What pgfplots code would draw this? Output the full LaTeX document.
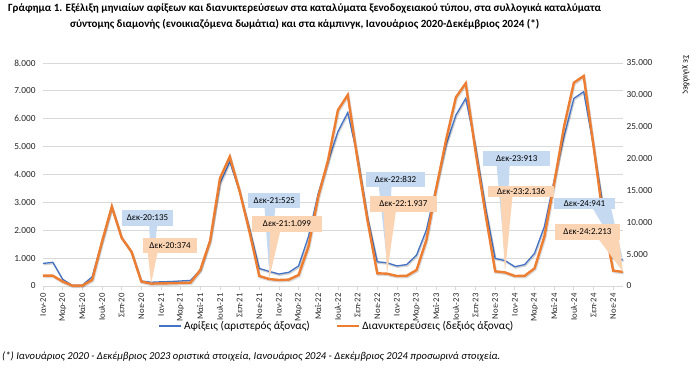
\documentclass[border=0pt]{standalone}
\usepackage{fontspec}
\setmainfont{Carlito}
\usepackage{pgfplots}
\usepackage{pgfplotstable}
\pgfplotsset{compat=1.18}

\definecolor{cblue}{HTML}{4472C4}
\definecolor{corange}{HTML}{ED7D31}
\definecolor{bbox}{HTML}{C5D9F1}
\definecolor{obox}{HTML}{FBD4B4}
\definecolor{gridc}{HTML}{D9D9D9}

\pgfplotstableread{
i a n
0 810 1620
1 850 1620
2 240 700
3 20 50
4 30 60
5 330 950
6 1590 6950
7 2840 12450
8 1730 7580
9 1230 5380
10 180 700
11 135 374
12 150 410
13 160 430
14 180 480
15 200 520
16 570 2500
17 1650 7100
18 3680 16900
19 4460 20300
20 3380 14900
21 2070 8530
22 630 1570
23 525 1099
24 430 940
25 490 1000
26 720 1730
27 1770 6170
28 3330 14020
29 4460 19780
30 5540 27600
31 6220 29980
32 4640 19780
33 2490 10360
34 870 1990
35 832 1937
36 720 1570
37 770 1600
38 1110 2510
39 2010 7220
40 3560 15330
41 5060 22920
42 6130 29620
43 6730 31810
44 5000 21090
45 2850 11400
46 990 2300
47 913 2136
48 690 1570
49 770 1600
50 1170 2770
51 2130 7740
52 3800 16120
53 5360 25010
54 6730 31910
55 6970 32960
56 5000 22000
57 2800 10500
58 1000 2400
59 941 2213
}\data

\newcommand{\callout}[9]{%
  \fill[#1] (#6pt,#3pt) -- (#7pt,#3pt) -- (#8) -- cycle;
  \node[fill=#1, minimum width=#4pt, minimum height=#5pt, inner sep=0pt,
        font=\fontsize{9}{10}\selectfont] at (#2pt,#3pt) {#9};
}

\begin{document}
\begin{tikzpicture}
\useasboundingbox (-43pt,-85pt) rectangle (656pt,286pt);

\begin{axis}[
  at={(0pt,0pt)}, anchor=south west,
  scale only axis, width=580pt, height=223pt,
  xmin=0, xmax=59, ymin=0, ymax=8000,
  clip=false,
  axis x line*=bottom, axis y line*=left,
  x axis line style={draw=gridc, line width=0.8pt, -},
  y axis line style={draw=none},
  xtick={0,2,...,58},
  xticklabels={Ιαν-20,Μαρ-20,Μαϊ-20,Ιουλ-20,Σεπ-20,Νοε-20,
               Ιαν-21,Μαρ-21,Μαϊ-21,Ιουλ-21,Σεπ-21,Νοε-21,
               Ιαν-22,Μαρ-22,Μαϊ-22,Ιουλ-22,Σεπ-22,Νοε-22,
               Ιαν-23,Μαρ-23,Μαϊ-23,Ιουλ-23,Σεπ-23,Νοε-23,
               Ιαν-24,Μαρ-24,Μαϊ-24,Ιουλ-24,Σεπ-24,Νοε-24},
  xticklabel style={rotate=90, anchor=east, font=\fontsize{8.7}{10}\selectfont, text=black!85},
  xtick style={draw=gridc, line width=0.8pt},
  tick align=outside, major tick length=4pt,
  ytick={0,1000,...,8000},
  ytick style={draw=none},
  yticklabel style={font=\fontsize{9.3}{11}\selectfont, text=black!85,
     /pgf/number format/1000 sep={.}, /pgf/number format/assume math mode=true},
  scaled y ticks=false,
  ymajorgrids, grid style={draw=gridc, line width=0.8pt},
  legend style={at={(0.507,-0.179)}, anchor=center, draw=none, fill=none,
     font=\fontsize{11.3}{13}\selectfont, legend columns=2,
     /tikz/every even column/.append style={column sep=24pt}},
  legend image code/.code={\draw[#1] (0pt,0pt) -- (22pt,0pt);},
]
\addplot[black, opacity=0.18, line width=1.6pt, forget plot, shift={(0.7pt,-1.2pt)}] table[x=i,y=a]{\data};
\addplot[cblue, line width=1.3pt] table[x=i,y=a]{\data};
\addlegendentry{Αφίξεις (αριστερός άξονας)}
\addlegendimage{corange, line width=2.4pt}
\addlegendentry{Διανυκτερεύσεις (δεξιός άξονας)}
\coordinate (pb20) at (axis cs:11,135);
\coordinate (pb21) at (axis cs:23,525);
\coordinate (pb22) at (axis cs:35,832);
\coordinate (pb23) at (axis cs:47,913);
\coordinate (pb24) at (axis cs:59,941);
\end{axis}

\begin{axis}[
  at={(0pt,0pt)}, anchor=south west,
  scale only axis, width=580pt, height=223pt,
  xmin=0, xmax=59, ymin=0, ymax=35000,
  clip=false,
  axis x line=none, axis y line*=right,
  y axis line style={draw=none},
  ytick={0,5000,...,35000},
  ytick style={draw=none},
  yticklabel style={font=\fontsize{9.3}{11}\selectfont, text=black!85,
     /pgf/number format/1000 sep={.}, /pgf/number format/assume math mode=true},
  scaled y ticks=false,
]
\addplot[black, opacity=0.15, line width=2.6pt, forget plot, shift={(0.7pt,-1.2pt)}] table[x=i,y=n]{\data};
\addplot[corange, line width=2.4pt] table[x=i,y=n]{\data};
\coordinate (po20) at (axis cs:11,374);
\coordinate (po21) at (axis cs:23,1099);
\coordinate (po22) at (axis cs:35,1937);
\coordinate (po23) at (axis cs:47,2136);
\coordinate (po24) at (axis cs:59,2213);
\end{axis}

% callouts
\callout{bbox}{104.5}{68.1}{51.6}{15.7}{106}{115}{pb20}{Δεκ-20:135}
\callout{bbox}{231.3}{85.2}{52}{15}{221}{233}{pb21}{Δεκ-21:525}
\callout{bbox}{352.5}{106.6}{59}{14.5}{335}{349}{pb22}{Δεκ-22:832}
\callout{bbox}{473.7}{127.7}{66.7}{15.3}{453}{467}{pb23}{Δεκ-23:913}
\callout{bbox}{541.5}{82.4}{61}{10.5}{547}{567}{pb24}{Δεκ-24:941}
\callout{obox}{127}{40.5}{53.4}{15.6}{104}{116}{po20}{Δεκ-20:374}
\callout{obox}{244}{62.2}{69.4}{15.7}{227}{239}{po21}{Δεκ-21:1.099}
\callout{obox}{360.3}{82.2}{66.7}{15.7}{340}{354}{po22}{Δεκ-22:1.937}
\callout{obox}{478.2}{94.2}{65.5}{11}{457}{470}{po23}{Δεκ-23:2.136}
\callout{obox}{544.5}{54.3}{65}{16}{550}{575}{po24}{Δεκ-24:2.213}

% title
\node[anchor=north west, inner sep=0pt, align=center, font=\bfseries\fontsize{11}{16}\selectfont] at (-35pt,283pt)
 {Γράφημα 1. Εξέλιξη μηνιαίων αφίξεων και διανυκτερεύσεων στα καταλύματα ξενοδοχειακού τύπου, στα συλλογικά καταλύματα\\
  σύντομης διαμονής (ενοικιαζόμενα δωμάτια) και στα κάμπινγκ, Ιανουάριος 2020-Δεκέμβριος 2024 (*)};

% right axis unit
\node[rotate=-90, font=\fontsize{8.5}{10}\selectfont] at (643pt,211pt) {Σε χιλιάδες};

% footnote
\node[anchor=west, inner sep=0pt, font=\itshape\fontsize{10.6}{12}\selectfont] at (-41pt,-71pt)
 {(*) Ιανουάριος 2020 - Δεκέμβριος 2023 οριστικά στοιχεία, Ιανουάριος 2024 - Δεκέμβριος 2024 προσωρινά στοιχεία.};
\end{tikzpicture}
\end{document}
